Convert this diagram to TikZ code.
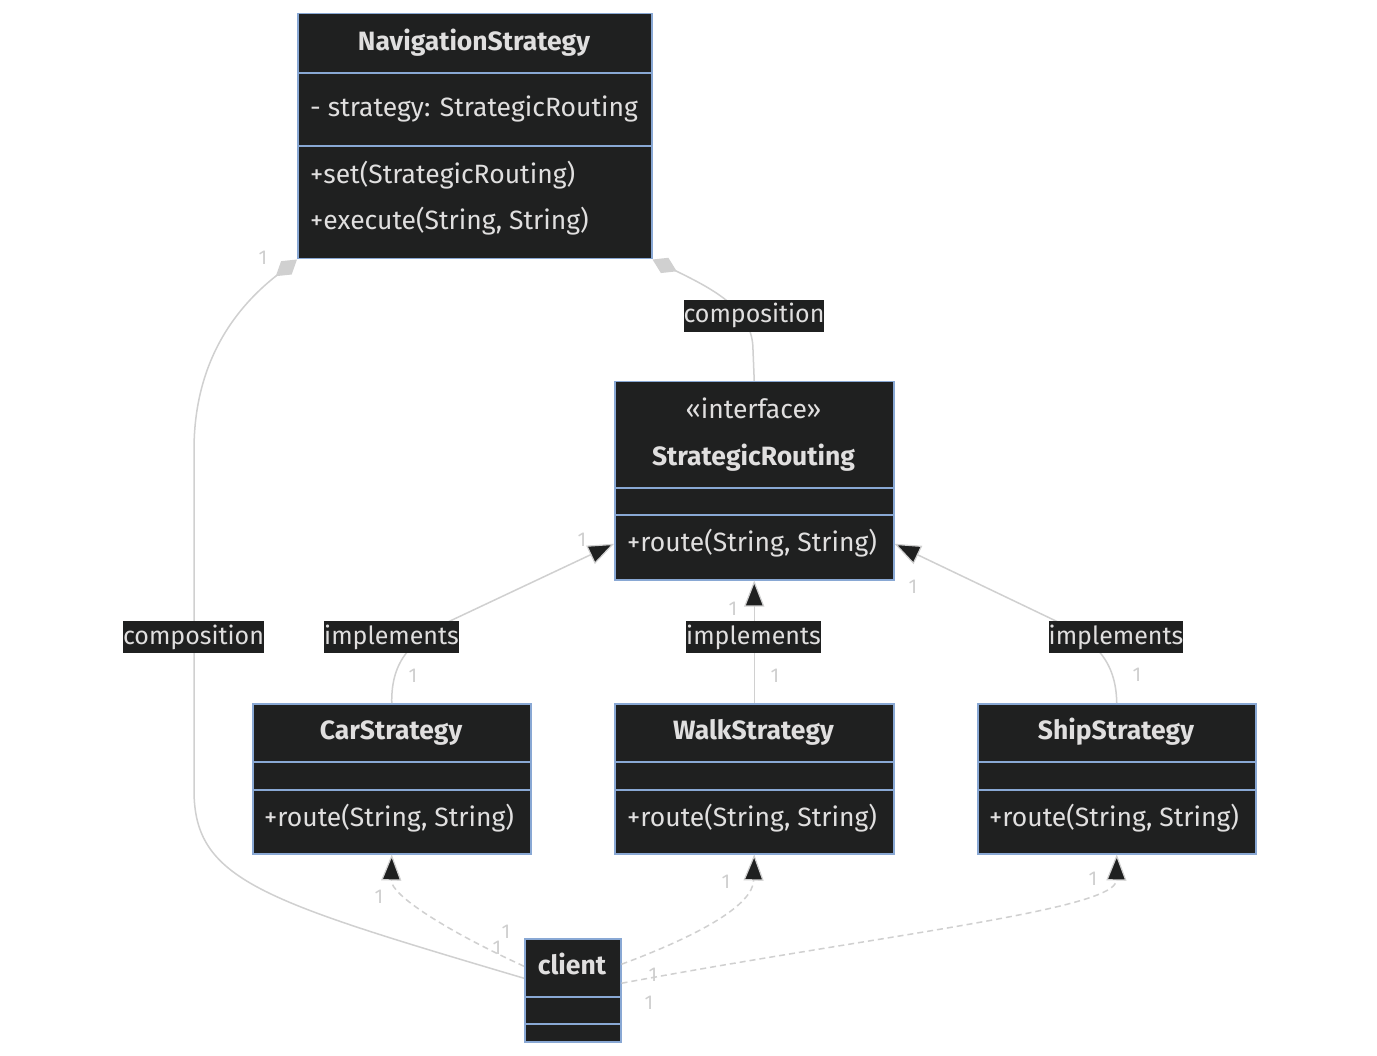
\documentclass[tikz,border=0pt]{standalone}
\usepackage{fontspec}
\setmainfont{Fira Sans}
\usetikzlibrary{arrows.meta}
\definecolor{boxfill}{HTML}{1F2020}
\definecolor{bordercol}{HTML}{89A8D4}
\definecolor{txtcol}{HTML}{E0DFDF}
\definecolor{linecol}{HTML}{D0D0D0}
\definecolor{multcol}{HTML}{CFCFCF}
\tikzset{
  cls/.style={draw=bordercol, fill=boxfill, line width=1.5pt, inner sep=0pt, anchor=north west},
  divider/.style={draw=bordercol, line width=1.5pt},
  ctitle/.style={text=txtcol, font=\fontsize{26.5}{30}\selectfont\bfseries, inner sep=0pt, text height=23pt, text depth=6pt},
  cstereo/.style={text=txtcol, font=\fontsize{26.5}{30}\selectfont, inner sep=0pt, text height=23pt, text depth=6pt},
  cmember/.style={text=txtcol, font=\fontsize{26.5}{30}\selectfont, inner sep=0pt, anchor=west, text height=23pt, text depth=6pt},
  elabel/.style={text=txtcol, fill=boxfill, font=\fontsize{25}{30}\selectfont, inner xsep=0pt, inner ysep=0pt, minimum height=32pt, text height=20pt, text depth=6pt},
  mult/.style={text=multcol, font=\fontsize{20}{22}\selectfont, inner sep=0pt},
  conn/.style={draw=linecol, line width=1.5pt},
  ext/.style={-{Triangle[length=26pt,width=20pt,fill=boxfill,line width=1.2pt]}},
  comp/.style={{Diamond[length=27pt,width=17pt,fill=linecol]}-},
  dep/.style={dash pattern=on 6pt off 4pt},
}
\begin{document}
\begin{tikzpicture}[x=1pt,y=-1pt]
\fill[white] (0,0) rectangle (1377,1056);
\useasboundingbox (0,0) rectangle (1377,1056);

% NavigationStrategy
\node[cls, minimum width=354pt, minimum height=245pt] (nav) at (297,13) {};
\draw[divider] (nav.west |- 0,73) -- (nav.east |- 0,73);
\draw[divider] (nav.west |- 0,146) -- (nav.east |- 0,146);
\node[ctitle] (navT) at (474,42) {NavigationStrategy};
\node[cmember] (navA) at (310,108) {- strategy: StrategicRouting};
\node[cmember] (navM1) at (310,175) {+set(StrategicRouting)};
\node[cmember] (navM2) at (310,221) {+execute(String, String)};

% StrategicRouting
\node[cls, minimum width=279pt, minimum height=198pt] (sr) at (614,381) {};
\draw[divider] (sr.west |- 0,488) -- (sr.east |- 0,488);
\draw[divider] (sr.west |- 0,515) -- (sr.east |- 0,515);
\node[cstereo] (srS) at (753.5,410) {«interface»};
\node[ctitle] (srT) at (753.5,457) {StrategicRouting};
\node[cmember] (srM) at (627,543) {+route(String, String)};

% CarStrategy
\node[cls, minimum width=278pt, minimum height=150pt] (car) at (252,703) {};
\draw[divider] (car.west |- 0,762) -- (car.east |- 0,762);
\draw[divider] (car.west |- 0,790) -- (car.east |- 0,790);
\node[ctitle] (carT) at (391,731) {CarStrategy};
\node[cmember] (carM) at (264,818) {+route(String, String)};

% WalkStrategy
\node[cls, minimum width=279pt, minimum height=150pt] (walk) at (614,703) {};
\draw[divider] (walk.west |- 0,762) -- (walk.east |- 0,762);
\draw[divider] (walk.west |- 0,790) -- (walk.east |- 0,790);
\node[ctitle] (walkT) at (753.5,731) {WalkStrategy};
\node[cmember] (walkM) at (627,818) {+route(String, String)};

% ShipStrategy
\node[cls, minimum width=278pt, minimum height=150pt] (ship) at (977,703) {};
\draw[divider] (ship.west |- 0,762) -- (ship.east |- 0,762);
\draw[divider] (ship.west |- 0,790) -- (ship.east |- 0,790);
\node[ctitle] (shipT) at (1116,731) {ShipStrategy};
\node[cmember] (shipM) at (989,818) {+route(String, String)};

% client
\node[cls, minimum width=96pt, minimum height=103pt] (client) at (524,938) {};
\draw[divider] (client.west |- 0,997) -- (client.east |- 0,997);
\draw[divider] (client.west |- 0,1024) -- (client.east |- 0,1024);
\node[ctitle] (clientT) at (572,966) {client};

% connectors
\draw[conn, comp] (nav.south west) .. controls (220,320) and (194,380) .. (194,450)
  -- (194,790) .. controls (194,880) and (260,900) .. ([yshift=12pt]client.west);
\draw[conn, comp] (nav.south east) .. controls (715,290) and (753,310) .. (753,350) -- (sr.north);
\draw[conn, ext] (car.north) .. controls (391,660) and (412,640) .. (450,621) -- ([yshift=-63pt]sr.west);
\draw[conn, ext] (walk.north) -- (sr.south);
\draw[conn, ext] (ship.north) .. controls (1116,660) and (1094,640) .. (1056,621) -- ([yshift=-63pt]sr.east);
\draw[conn, dep, ext] ([yshift=24pt]client.west) .. controls (445,930) and (391,895) .. (car.south);
\draw[conn, dep, ext] ([yshift=26pt]client.east) .. controls (700,935) and (753,905) .. (walk.south);
\draw[conn, dep, ext] ([yshift=7pt]client.east) .. controls (880,935) and (1116,910) .. (ship.south);

% edge labels
\node[elabel] (l1) at (193.5,637) {composition};
\node[elabel] (l2) at (754,316) {composition};
\node[elabel] (l3) at (391.5,637) {implements};
\node[elabel] (l4) at (753.5,637) {implements};
\node[elabel] (l5) at (1116,637) {implements};

% multiplicities
\node[mult] (m1) at (263,258) {1};
\node[mult] (m2) at (582,540) {1};
\node[mult] (m3) at (413,676) {1};
\node[mult] (m4) at (733,609) {1};
\node[mult] (m5) at (775,676) {1};
\node[mult] (m6) at (913,587) {1};
\node[mult] (m7) at (1137,675) {1};
\node[mult] (m8) at (379,897) {1};
\node[mult] (m9) at (506,932) {1};
\node[mult] (m10) at (497,948) {1};
\node[mult] (m11) at (726,882) {1};
\node[mult] (m12) at (653,975) {1};
\node[mult] (m13) at (649,1003) {1};
\node[mult] (m14) at (1093,879) {1};
\end{tikzpicture}
\end{document}
